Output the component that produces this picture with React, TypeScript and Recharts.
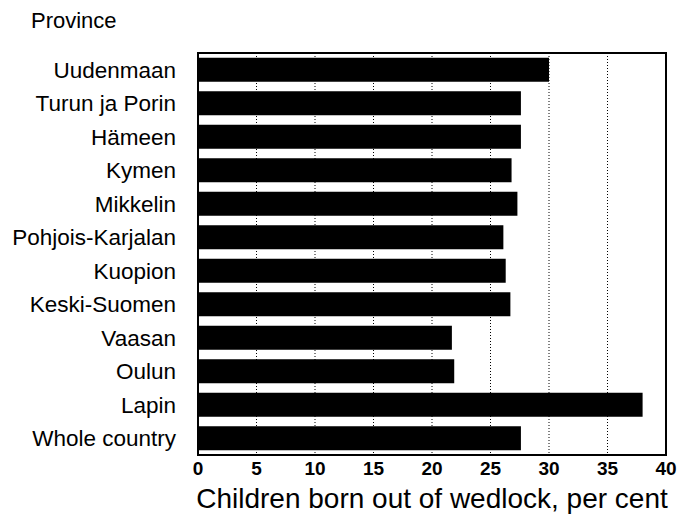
import { BarChart, Bar, XAxis, YAxis, CartesianGrid, ReferenceArea } from 'recharts';

const provinces = [
  'Uudenmaan',
  'Turun ja Porin',
  'Hämeen',
  'Kymen',
  'Mikkelin',
  'Pohjois-Karjalan',
  'Kuopion',
  'Keski-Suomen',
  'Vaasan',
  'Oulun',
  'Lapin',
  'Whole country',
];

const outOfWedlock = [30.0, 27.6, 27.6, 26.8, 27.3, 26.1, 26.3, 26.7, 21.7, 21.9, 38.0, 27.6];

const xTicks = [0, 5, 10, 15, 20, 25, 30, 35, 40];

const data = provinces.map((name, i) => ({ name, value: outOfWedlock[i] }));

const font = '"Liberation Sans", Arial, sans-serif';

export default function App() {
  return (
    <div style={{ position: 'absolute', left: 0, top: 0, width: 683, height: 528, background: '#fff', fontFamily: font }}>
      <div style={{ position: 'absolute', left: 31, top: 8, fontSize: 22, color: '#000' }}>Province</div>
      <BarChart
        width={683}
        height={528}
        data={data}
        layout="vertical"
        margin={{ top: 53, right: 17, bottom: 0, left: 0 }}
        barCategoryGap="14%"
      >
        <CartesianGrid horizontal={false} stroke="#000" strokeDasharray="1 2" />
        <XAxis
          type="number"
          domain={[0, 40]}
          ticks={xTicks}
          interval={0}
          axisLine={false}
          tickLine={false}
          tickSize={0}
          tickMargin={7}
          height={73}
          tick={{ fill: '#000', fontSize: 19, fontWeight: 'bold', fontFamily: font }}
          label={{ value: 'Children born out of wedlock, per cent', position: 'insideBottom', offset: 20, fill: '#000', fontSize: 28, fontFamily: font }}
        />
        <YAxis
          type="category"
          dataKey="name"
          width={198}
          axisLine={false}
          tickLine={false}
          tickSize={0}
          tickMargin={22}
          interval={0}
          tick={{ fill: '#000', fontSize: 22.5, fontFamily: font }}
        />
        <Bar dataKey="value" fill="#000" isAnimationActive={false} />
        <ReferenceArea x1={0} x2={40} fill="none" stroke="#000" strokeWidth={2} ifOverflow="visible" />
      </BarChart>
    </div>
  );
}
